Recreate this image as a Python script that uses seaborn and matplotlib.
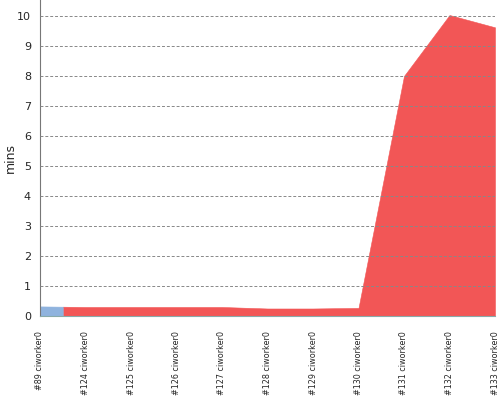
import numpy as np
import seaborn as sns
from matplotlib import pyplot as plt

builds = ["#89", "#124", "#125", "#126", "#127", "#128", "#129", "#130", "#131", "#132", "#133"]
node = "ciworker0"
durations = [0.32, 0.3, 0.3, 0.3, 0.3, 0.25, 0.25, 0.27, 8.0, 10.03, 9.62]
ok_builds = 1  # only the first build passed

sns.set_style("white")
plt.rcParams["font.family"] = ["DejaVu Sans"]

fig = plt.figure(figsize=(5, 4), dpi=100)
ax = fig.add_axes([0.08, 0.21, 0.91, 0.79])

x = np.arange(len(builds), dtype=float)
y = np.array(durations)

# colour switches half way between the last passing build and the next one
split = ok_builds - 0.5
y_split = np.interp(split, x, y)
xb = np.append(x[:ok_builds], split)
yb = np.append(y[:ok_builds], y_split)
xr = np.insert(x[ok_builds:], 0, split)
yr = np.insert(y[ok_builds:], 0, y_split)

ax.fill_between(xr, yr, color="#f25656", edgecolor="#f25656", lw=0.4)
ax.fill_between(xb, yb, color="#8fb3de", edgecolor="#8fb3de", lw=0.4)

ax.set_xlim(0, len(builds) - 1)
ax.set_ylim(0, 10.53)
ax.set_yticks(range(0, 11))
ax.yaxis.grid(True, ls=(0, (3, 2)), color="#888888", lw=0.7)
ax.set_axisbelow(False)
ax.set_xticks(x)
ax.set_xticklabels([f"{b} {node}" for b in builds], rotation=90, fontsize=5.8)
ax.tick_params(axis="y", labelsize=8, length=3, color="#777777")
ax.tick_params(axis="x", length=0, pad=11)
ax.set_ylabel("mins", fontsize=9)
ax.yaxis.set_label_coords(-0.05, 0.5)

sns.despine(ax=ax, top=True, right=True)
ax.spines["left"].set_color("#777777")
ax.spines["bottom"].set_color("#88aaaa")
ax.spines["bottom"].set_linewidth(0.8)

fig.savefig("out.png")
